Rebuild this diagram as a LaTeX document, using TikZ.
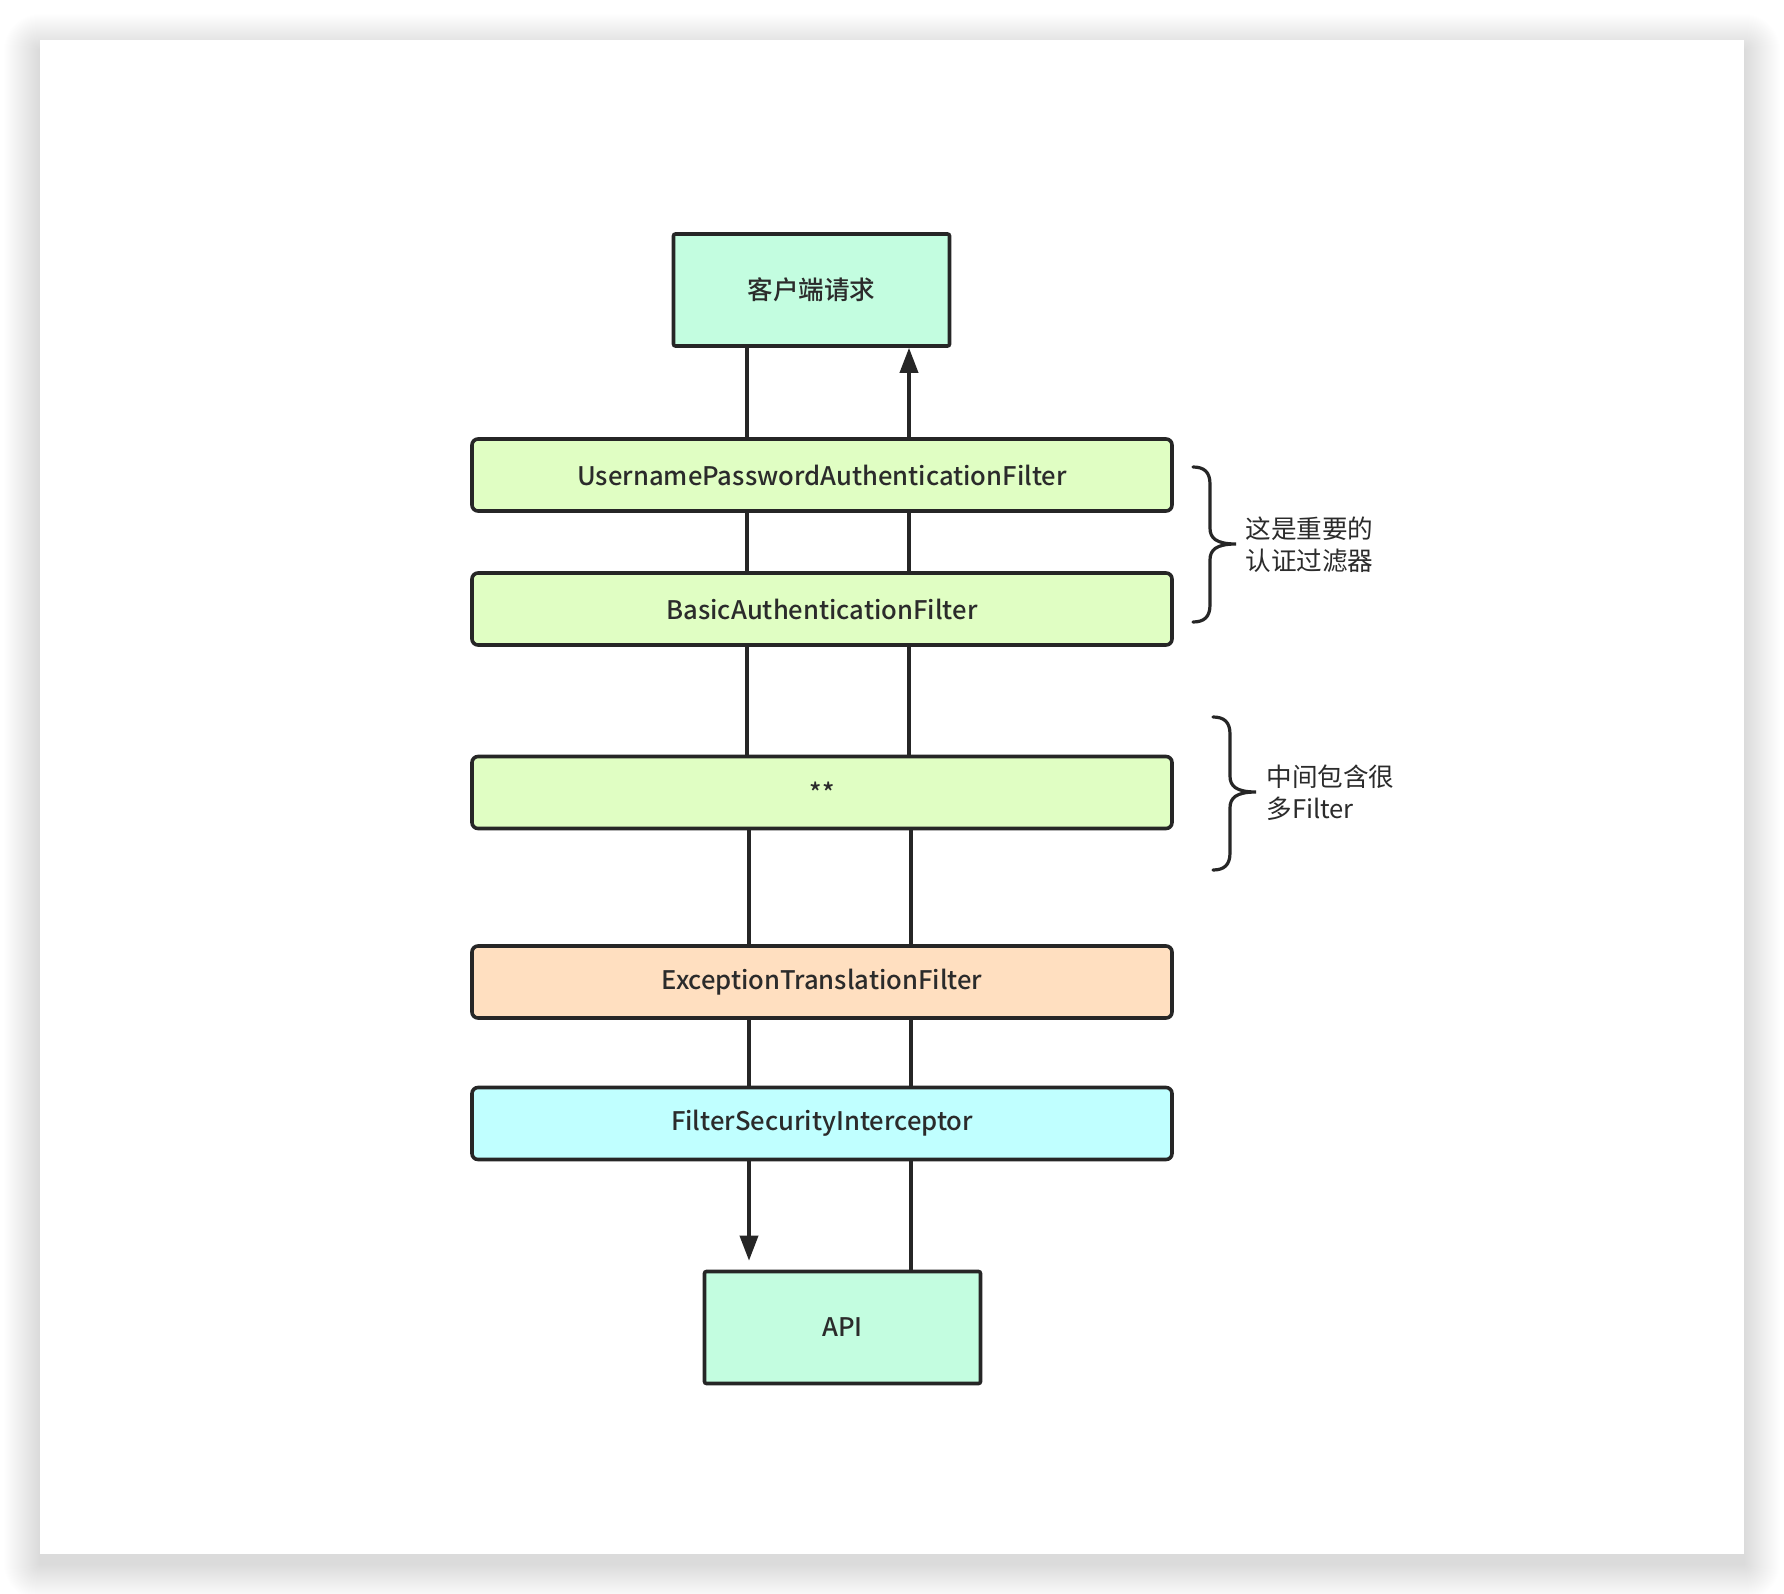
\documentclass[tikz,border=0pt]{standalone}
\usepackage{fontspec}
\setmainfont{Noto Sans CJK SC}[BoldFont={Noto Sans CJK SC Medium}]
\usetikzlibrary{arrows.meta}
\definecolor{ink}{HTML}{262626}
\definecolor{txt}{HTML}{2B2B2B}
\definecolor{mint}{HTML}{C3FDE0}
\definecolor{lgreen}{HTML}{E0FEC3}
\definecolor{peach}{HTML}{FFDFC0}
\definecolor{cyanf}{HTML}{C0FFFF}
\tikzset{
  box/.style={draw=ink, line width=1.8pt, text=txt, font=\bfseries\fontsize{12.8}{15}\selectfont, inner sep=0pt, anchor=center},
  sqbox/.style={box, fill=mint, minimum width=138pt, minimum height=56pt, rounded corners=1pt},
  fbox/.style={box, minimum width=350pt, minimum height=36pt, rounded corners=3pt},
  conn/.style={draw=ink, line width=1.8pt},
  tip/.style={-{Triangle[length=12.5pt,width=9pt]}},
  curly/.style={draw=ink, line width=1.6pt, line cap=round},
  note/.style={anchor=west, align=left, text=txt, font=\fontsize{12.8}{16}\selectfont, inner sep=0pt}
}
\begin{document}
\begin{tikzpicture}[x=0.5pt,y=-0.5pt]
\useasboundingbox (0,0) rectangle (1784,1594);
% shadow
\foreach \i in {1,...,36}{
  \fill[black, opacity=0.0035, rounded corners=\i*0.5pt] (40-\i,50-\i) rectangle (1744+\i,1564+\i);
}
\fill[white] (40,40) rectangle (1744,1554);
% nodes
\node[sqbox] (top) at (811.5,290) {客户端请求};
\node[fbox, fill=lgreen] (upaf) at (822,475) {UsernamePasswordAuthenticationFilter};
\node[fbox, fill=lgreen] (basic) at (822,609) {BasicAuthenticationFilter};
\node[fbox, fill=lgreen] (mid) at (822,792.5) {**};
\node[fbox, fill=peach] (exc) at (822,982) {ExceptionTranslationFilter};
\node[fbox, fill=cyanf] (fsi) at (822,1123.5) {FilterSecurityInterceptor};
\node[sqbox] (api) at (842.5,1327.5) {API};
% lanes
\coordinate (L1) at (747,0);
\coordinate (R1) at (909,0);
\coordinate (L2) at (749,0);
\coordinate (R2) at (911,0);
% connectors
\draw[conn] (upaf.north -| L1) -- (top.south -| L1);
\draw[conn,tip] (upaf.north -| R1) -- (top.south -| R1);
\draw[conn] (basic.north -| L1) -- (upaf.south -| L1);
\draw[conn] (basic.north -| R1) -- (upaf.south -| R1);
\draw[conn] (mid.north -| L1) -- (basic.south -| L1);
\draw[conn] (mid.north -| R1) -- (basic.south -| R1);
\draw[conn] (exc.north -| L2) -- (mid.south -| L2);
\draw[conn] (exc.north -| R2) -- (mid.south -| R2);
\draw[conn] (fsi.north -| L2) -- (exc.south -| L2);
\draw[conn] (fsi.north -| R2) -- (exc.south -| R2);
\draw[conn,tip,shorten >=4.5pt] (fsi.south -| L2) -- (api.north -| L2);
\draw[conn] (api.north -| R2) -- (fsi.south -| R2);
% braces
\draw[curly] (1193,467) .. controls (1204,467) and (1210,472) .. (1210,484)
  -- (1210,528) .. controls (1210,538) and (1216,544) .. (1236,544)
  .. controls (1216,544) and (1210,550) .. (1210,560)
  -- (1210,605) .. controls (1210,617) and (1204,622) .. (1193,622);
\draw[curly] (1213,717) .. controls (1224,717) and (1230,722) .. (1230,734)
  -- (1230,776) .. controls (1230,786) and (1236,792) .. (1256,792)
  .. controls (1236,792) and (1230,798) .. (1230,808)
  -- (1230,853) .. controls (1230,865) and (1224,870) .. (1213,870);
\node[note] (n1) at (1245,545) {这是重要的\\认证过滤器};
\node[note] (n2) at (1266,793) {中间包含很\\多Filter};
\end{tikzpicture}
\end{document}
